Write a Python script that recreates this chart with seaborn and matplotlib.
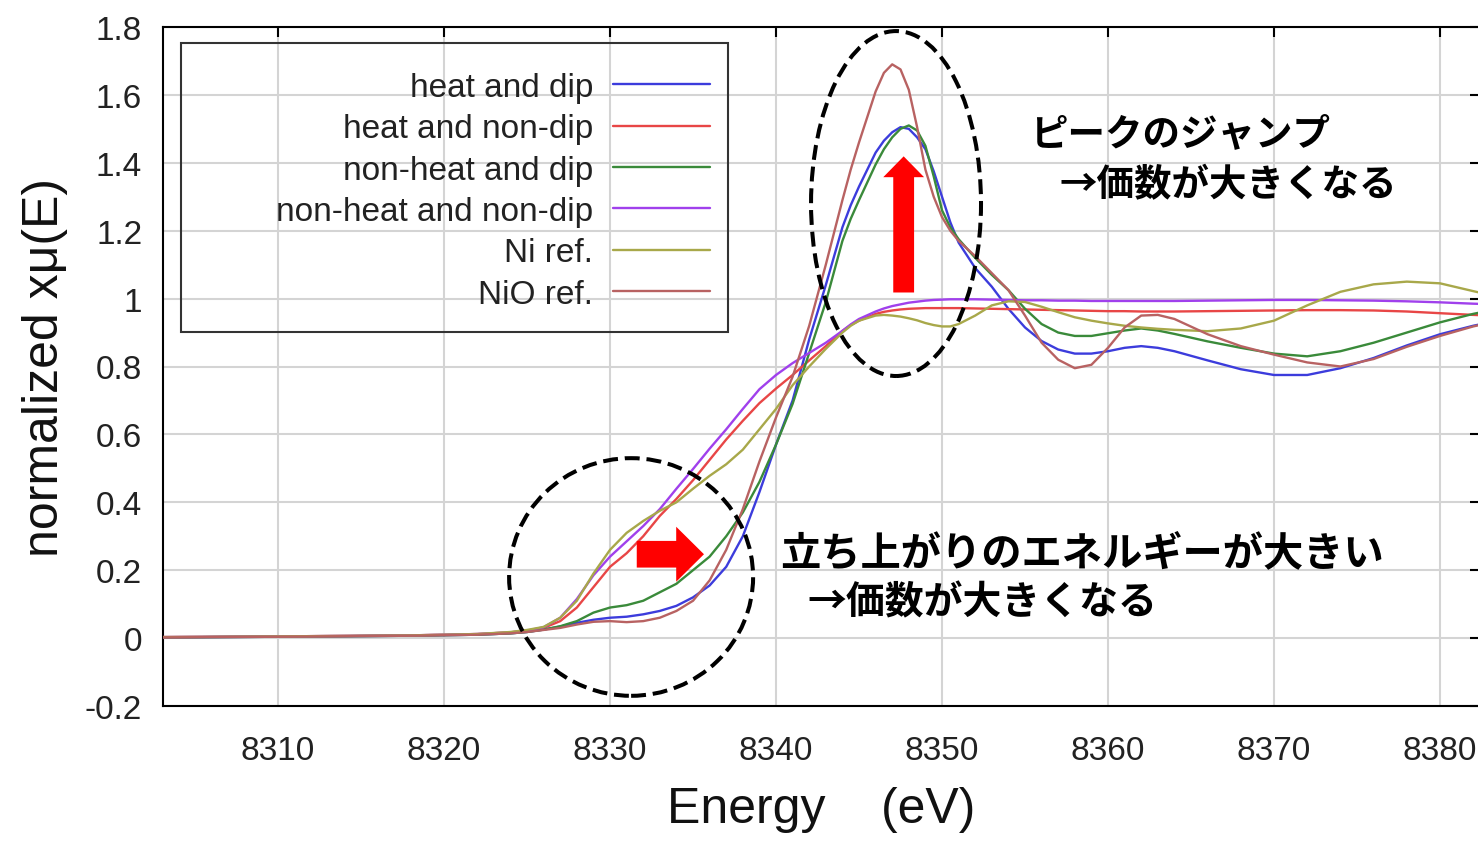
import numpy as np
import pandas as pd
import matplotlib
matplotlib.use("Agg")
import matplotlib.pyplot as plt
import seaborn as sns
from matplotlib.patches import Ellipse, Rectangle
from matplotlib.lines import Line2D

# ---------------- data ----------------
energy = [8303, 8310, 8318, 8322, 8324, 8325, 8326, 8327, 8328, 8329, 8330, 8331,
          8332, 8333, 8334, 8335, 8336, 8337, 8338, 8339, 8340, 8341, 8342, 8343,
          8344, 8344.5, 8345, 8346, 8346.5, 8347, 8347.5, 8348, 8348.5, 8349, 8349.5,
          8350, 8350.5, 8351, 8352,
          8353, 8354, 8355, 8356, 8357, 8358, 8359, 8360, 8361, 8362, 8363, 8364,
          8366, 8368, 8370, 8372, 8374, 8376, 8378, 8380, 8382, 8384]

heat_dip = [0.002, 0.004, 0.007, 0.010, 0.014, 0.018, 0.025, 0.034, 0.045, 0.054, 0.060, 0.063,
            0.070, 0.080, 0.095, 0.120, 0.155, 0.210, 0.300, 0.430, 0.570, 0.700, 0.880, 1.040,
            1.210, 1.275, 1.330, 1.430, 1.465, 1.490, 1.505, 1.500, 1.475, 1.440, 1.375,
            1.300, 1.225, 1.165, 1.090,
            1.035, 0.970, 0.915, 0.875, 0.850, 0.838, 0.838, 0.845, 0.855, 0.860, 0.855, 0.845,
            0.818, 0.792, 0.775, 0.775, 0.795, 0.825, 0.862, 0.895, 0.920, 0.940]

heat_nondip = [0.003, 0.005, 0.008, 0.012, 0.017, 0.022, 0.030, 0.050, 0.090, 0.150, 0.210, 0.250,
               0.300, 0.360, 0.410, 0.465, 0.525, 0.585, 0.640, 0.692, 0.735, 0.775, 0.818, 0.860,
               0.905, 0.922, 0.935, 0.955, 0.961, 0.965, 0.968, 0.970, 0.971, 0.972, 0.972,
               0.972, 0.972, 0.972, 0.971,
               0.970, 0.969, 0.968, 0.967, 0.966, 0.965, 0.964, 0.963, 0.963, 0.962, 0.962, 0.962,
               0.963, 0.964, 0.965, 0.966, 0.966, 0.965, 0.962, 0.957, 0.952, 0.948]

nonheat_dip = [0.002, 0.004, 0.007, 0.010, 0.014, 0.018, 0.025, 0.035, 0.050, 0.075, 0.090, 0.097,
               0.110, 0.135, 0.160, 0.200, 0.240, 0.300, 0.370, 0.460, 0.570, 0.690, 0.840, 0.990,
               1.170, 1.235, 1.290, 1.395, 1.440, 1.475, 1.500, 1.510, 1.495, 1.450, 1.360,
               1.260, 1.210, 1.175, 1.120,
               1.070, 1.025, 0.970, 0.925, 0.900, 0.890, 0.890, 0.898, 0.906, 0.912, 0.906, 0.896,
               0.874, 0.855, 0.838, 0.830, 0.845, 0.870, 0.900, 0.930, 0.955, 0.975]

nonheat_nondip = [0.003, 0.005, 0.008, 0.012, 0.017, 0.022, 0.032, 0.060, 0.115, 0.185, 0.240, 0.285,
                  0.330, 0.380, 0.440, 0.498, 0.558, 0.615, 0.675, 0.733, 0.775, 0.810, 0.840, 0.870,
                  0.905, 0.924, 0.940, 0.962, 0.971, 0.978, 0.983, 0.988, 0.991, 0.994, 0.996,
                  0.997, 0.998, 0.998, 0.998,
                  0.997, 0.996, 0.995, 0.995, 0.994, 0.994, 0.993, 0.993, 0.993, 0.993, 0.993, 0.993,
                  0.994, 0.995, 0.996, 0.996, 0.995, 0.994, 0.992, 0.989, 0.985, 0.982]

ni_ref = [0.003, 0.005, 0.008, 0.012, 0.018, 0.024, 0.033, 0.060, 0.110, 0.190, 0.260, 0.310,
          0.345, 0.375, 0.400, 0.440, 0.478, 0.512, 0.555, 0.615, 0.675, 0.745, 0.800, 0.852,
          0.900, 0.920, 0.935, 0.950, 0.952, 0.950, 0.947, 0.942, 0.936, 0.928, 0.922,
          0.918, 0.918, 0.925, 0.950,
          0.980, 0.992, 0.990, 0.976, 0.960, 0.945, 0.935, 0.927, 0.920, 0.915, 0.911, 0.908,
          0.904, 0.912, 0.935, 0.980, 1.020, 1.042, 1.050, 1.045, 1.022, 1.000]

nio_ref = [0.002, 0.004, 0.007, 0.010, 0.014, 0.018, 0.024, 0.030, 0.040, 0.048, 0.050, 0.047,
           0.050, 0.060, 0.080, 0.110, 0.170, 0.260, 0.380, 0.520, 0.650, 0.770, 0.920, 1.100,
           1.290, 1.380, 1.460, 1.610, 1.665, 1.690, 1.675, 1.615, 1.505, 1.380, 1.300,
           1.240, 1.200, 1.170, 1.125,
           1.075, 1.025, 0.950, 0.870, 0.820, 0.795, 0.805, 0.855, 0.915, 0.950, 0.952, 0.940,
           0.895, 0.860, 0.835, 0.812, 0.800, 0.822, 0.858, 0.890, 0.918, 0.940]

series_names = ["heat and dip", "heat and non-dip", "non-heat and dip",
                "non-heat and non-dip", "Ni ref.", "NiO ref."]
series_values = [heat_dip, heat_nondip, nonheat_dip, nonheat_nondip, ni_ref, nio_ref]
colors = ["#3c3cdc", "#e84646", "#3a8a3a", "#a040ec", "#a8a84a", "#b86262"]

xticks = [8310, 8320, 8330, 8340, 8350, 8360, 8370, 8380]
yticks = [-0.2, 0, 0.2, 0.4, 0.6, 0.8, 1.0, 1.2, 1.4, 1.6, 1.8]
ytick_labels = ["-0.2", "0", "0.2", "0.4", "0.6", "0.8", "1", "1.2", "1.4", "1.6", "1.8"]

note_peak = ["ピークのジャンプ", "→価数が大きくなる"]
note_edge = ["立ち上がりのエネルギーが大きい", "→価数が大きくなる"]

# ---------------- figure ----------------
sns.set_theme(style="whitegrid")
plt.rcParams["font.family"] = ["Liberation Sans", "DejaVu Sans"]

W, H = 1478, 845
fig = plt.figure(figsize=(W / 100, H / 100), dpi=100)
fig.patch.set_facecolor("white")
ax_left, ax_right, ax_top, ax_bottom = 163, 1480, 28, 707
ax = fig.add_axes([ax_left / W, 1 - ax_bottom / H, (ax_right - ax_left) / W, (ax_bottom - ax_top) / H])
ax.set_facecolor("white")

df = pd.DataFrame({"energy": energy})
for name, vals in zip(series_names, series_values):
    df[name] = vals
long = df.melt(id_vars="energy", var_name="series", value_name="mu")

sns.lineplot(data=long, x="energy", y="mu", hue="series", hue_order=series_names,
             palette=colors, linewidth=1.7, ax=ax, legend=False, zorder=3)
for ln in ax.get_lines():
    ln.set_solid_joinstyle("round")

ax.set_xlim(8303.07, 8382.41)
ax.set_ylim(-0.2, 1.8)
ax.set_xticks(xticks)
ax.set_xticklabels([str(t) for t in xticks])
ax.set_yticks(yticks)
ax.set_yticklabels(ytick_labels)
ax.grid(True, color="#d4d4d4", linewidth=1.5)
ax.set_axisbelow(True)
for sp in ax.spines.values():
    sp.set_visible(True)
    sp.set_color("black")
    sp.set_linewidth(1.5)
ax.tick_params(axis="both", which="major", direction="in", length=7, width=1.5,
               color="black", top=True, right=True, labelsize=24, labelcolor="#222222")
ax.tick_params(axis="x", pad=21)
ax.tick_params(axis="y", pad=15)

ax.set_xlabel("Energy    (eV)", fontsize=36, labelpad=14, color="#111111")
ax.set_ylabel("normalized xμ(E)", fontsize=36, labelpad=12, color="#111111")

# legend (gnuplot-like: text right aligned, sample on the right)
handles = [Line2D([], [], color=c, lw=1.7) for c in colors]
leg = ax.legend(handles, series_names, loc="upper right",
                bbox_to_anchor=((710 - ax_left) / (ax_right - ax_left),
                                (ax_bottom - 73) / (ax_bottom - ax_top)),
                frameon=False, markerfirst=False, fontsize=24, borderpad=0,
                borderaxespad=0, handlelength=2.9, handletextpad=0.6,
                labelspacing=0.31)
for t in leg.get_texts():
    t.set_color("#222222")
ax.add_patch(Rectangle(((181 - ax_left) / (ax_right - ax_left), (ax_bottom - 333) / (ax_bottom - ax_top)),
                       (728 - 181) / (ax_right - ax_left), (333 - 44) / (ax_bottom - ax_top),
                       transform=ax.transAxes, fill=False, ec="#333333", lw=1.5, zorder=5))

# dashed ellipses
ax.add_patch(Ellipse((8331.27, 0.18), width=14.7, height=0.70, fill=False, ec="black",
                     lw=2.9, linestyle=(0, (3.7, 1.7)), zorder=6))
ax.add_patch(Ellipse((8347.23, 1.28), width=10.24, height=1.016, fill=False, ec="black",
                     lw=2.9, linestyle=(0, (3.7, 1.7)), zorder=6))

# red arrows
ax.annotate("", xy=(8335.66, 0.247), xytext=(8331.61, 0.247),
            arrowprops=dict(arrowstyle="simple,head_width=0.99,head_length=0.5,tail_width=0.48",
                            mutation_scale=40, fc="#ff0000", ec="none", shrinkA=0, shrinkB=0),
            zorder=7)
ax.annotate("", xy=(8347.69, 1.419), xytext=(8347.69, 1.018),
            arrowprops=dict(arrowstyle="simple,head_width=0.98,head_length=0.5,tail_width=0.5",
                            mutation_scale=30, fc="#ff0000", ec="none", shrinkA=0, shrinkB=0),
            zorder=7)

# Japanese notes
cjk = ["Noto Sans CJK JP", "DejaVu Sans"]
ax.text(8355.3, 1.49, note_peak[0], family=cjk, fontsize=27, fontweight="bold",
        ha="left", va="center", color="black", zorder=8)
ax.text(8357.1, 1.337, note_peak[1], family=cjk, fontsize=27, fontweight="bold",
        ha="left", va="center", color="black", zorder=8)
ax.text(8340.24, 0.253, note_edge[0], family=cjk, fontsize=29, fontweight="bold",
        ha="left", va="center", color="black", zorder=8)
ax.text(8341.9, 0.106, note_edge[1], family=cjk, fontsize=28, fontweight="bold",
        ha="left", va="center", color="black", zorder=8)

fig.savefig("out.png", dpi=100, facecolor="white")
